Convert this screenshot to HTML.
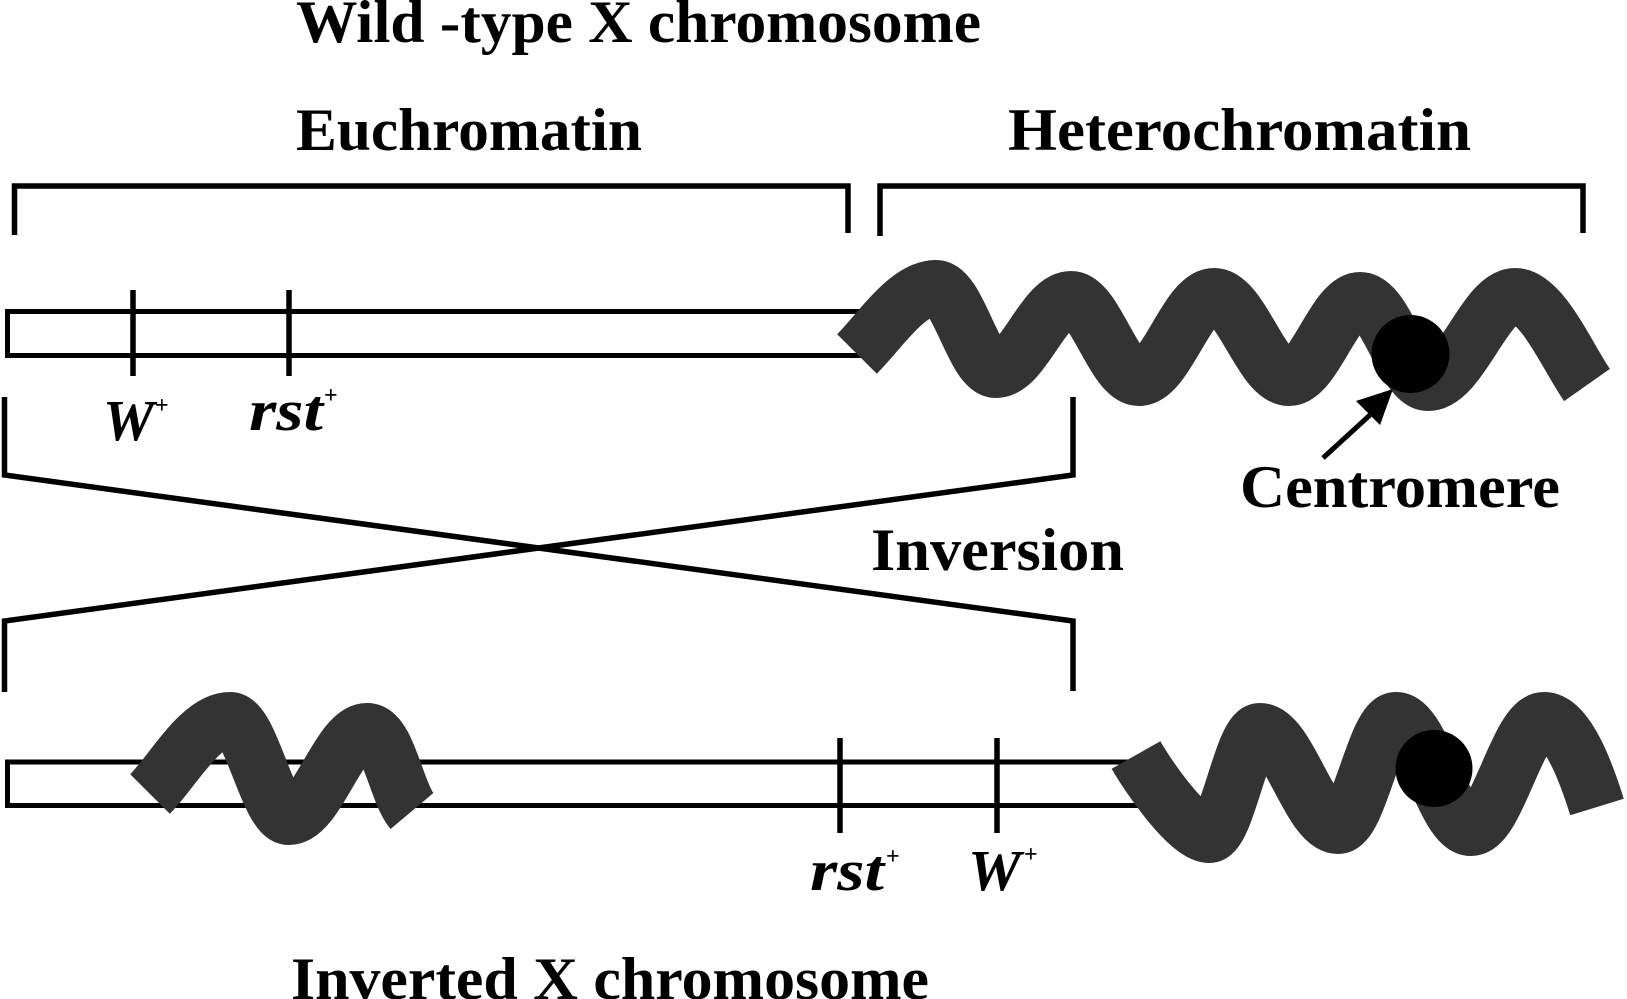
<!DOCTYPE html>
<html>
<head>
<meta charset="utf-8">
<style>
  html, body { margin: 0; padding: 0; background: #ffffff; }
  body { width: 1627px; height: 999px; overflow: hidden; }
  svg { display: block; }
  .t { font-family: "Liberation Serif", "DejaVu Serif", serif; font-weight: bold; font-size: 60px; fill: #000; }
  .it { font-family: "Liberation Serif", "DejaVu Serif", serif; font-weight: bold; font-style: italic; font-size: 58px; fill: #000; }
  .pl { font-family: "Liberation Serif", "DejaVu Serif", serif; font-weight: bold; font-size: 24px; fill: #000; }
</style>
</head>
<body>
<svg width="1627" height="999" viewBox="0 0 1627 999" xmlns="http://www.w3.org/2000/svg">
  <rect x="0" y="0" width="1627" height="999" fill="#ffffff"/>

  <!-- Black line work -->
  <g fill="none" stroke="#000" stroke-width="5.5" stroke-linecap="butt" stroke-linejoin="miter">
    <!-- brackets -->
    <path d="M14.5 235 V186 H848 V233"/>
    <path d="M880 236 V186 H1583 V233"/>

    <!-- upper chromosome rectangle (euchromatin) -->
    <path d="M864 311.5 H7.5 V355.5 H864" stroke-width="5"/>
    <!-- upper ticks -->
    <line x1="133" y1="290" x2="133" y2="376"/>
    <line x1="289" y1="290" x2="289" y2="376"/>

    <!-- inversion lines -->
    <path d="M4.5 397 V475 L1073 621 V691"/>
    <path d="M1073 397 V475 L4.5 621 V692"/>

    <!-- lower chromosome rectangle -->
    <path d="M1140 762 H7.5 V805.5 H1140" stroke-width="5"/>
    <!-- lower ticks -->
    <line x1="840" y1="738" x2="840" y2="833"/>
    <line x1="997" y1="738" x2="997" y2="833"/>
  </g>

  <!-- Heterochromatin waves -->
  <g fill="none" stroke="#333333" stroke-width="56" stroke-linecap="butt" stroke-linejoin="round">
    <!-- upper wave -->
    <path d="M857 354
             C880 331 907 288 936 288
             C958 288 974 370 996 370
             C1023 370 1044 299 1071 299
             C1095 299 1114 378 1139 378
             C1166 378 1187 296 1214 296
             C1241 296 1262 378 1289 378
             C1314 378 1335 300 1360 300
             C1386 300 1404 383 1428 383
             C1460 383 1485 296 1515 296
             C1542 296 1568 358 1587 385"/>
    <!-- lower-left wave -->
    <path d="M150 794
             C172 772 200 720 230 720
             C251 720 268 817 289 817
             C317 817 339 731 367 731
             C388 731 396 792 412 811"/>
    <!-- lower-right wave -->
    <path d="M1136 755
             C1149 778 1189 835 1209 835
             C1227 835 1242 731 1260 731
             C1288 731 1310 826 1338 826
             C1359 826 1375 720 1396 720
             C1423 720 1444 828 1471 828
             C1497 828 1518 720 1544 720
             C1568 720 1588 778 1597 807"/>
  </g>

  <!-- centromeres -->
  <circle cx="1410.5" cy="354" r="39" fill="#000"/>
  <circle cx="1434" cy="768.5" r="38.5" fill="#000"/>

  <!-- centromere arrow -->
  <line x1="1323" y1="458" x2="1370" y2="415" stroke="#000" stroke-width="5"/>
  <polygon points="1393,389 1356,401 1380,425" fill="#000"/>

  <!-- Labels -->
  <text class="t" x="296" y="42" textLength="685" lengthAdjust="spacingAndGlyphs">Wild -type X chromosome</text>
  <text class="t" x="296" y="150" textLength="346" lengthAdjust="spacingAndGlyphs">Euchromatin</text>
  <text class="t" x="1008" y="150" textLength="463" lengthAdjust="spacingAndGlyphs">Heterochromatin</text>
  <text class="t" x="1240" y="507" textLength="320" lengthAdjust="spacingAndGlyphs">Centromere</text>
  <text class="t" x="871" y="570" textLength="253" lengthAdjust="spacingAndGlyphs">Inversion</text>
  <text class="t" x="291" y="999" textLength="638" lengthAdjust="spacingAndGlyphs">Inverted X chromosome</text>

  <!-- gene labels upper -->
  <text class="it" x="103" y="440" textLength="51" lengthAdjust="spacingAndGlyphs">W</text>
  <text class="pl" x="155" y="413">+</text>
  <text class="it" x="249" y="430" textLength="74" lengthAdjust="spacingAndGlyphs">rst</text>
  <text class="pl" x="324" y="403">+</text>

  <!-- gene labels lower -->
  <text class="it" x="810" y="890" textLength="74" lengthAdjust="spacingAndGlyphs">rst</text>
  <text class="pl" x="886" y="864">+</text>
  <text class="it" x="968" y="890" textLength="53" lengthAdjust="spacingAndGlyphs">W</text>
  <text class="pl" x="1024" y="862">+</text>
</svg>
</body>
</html>
